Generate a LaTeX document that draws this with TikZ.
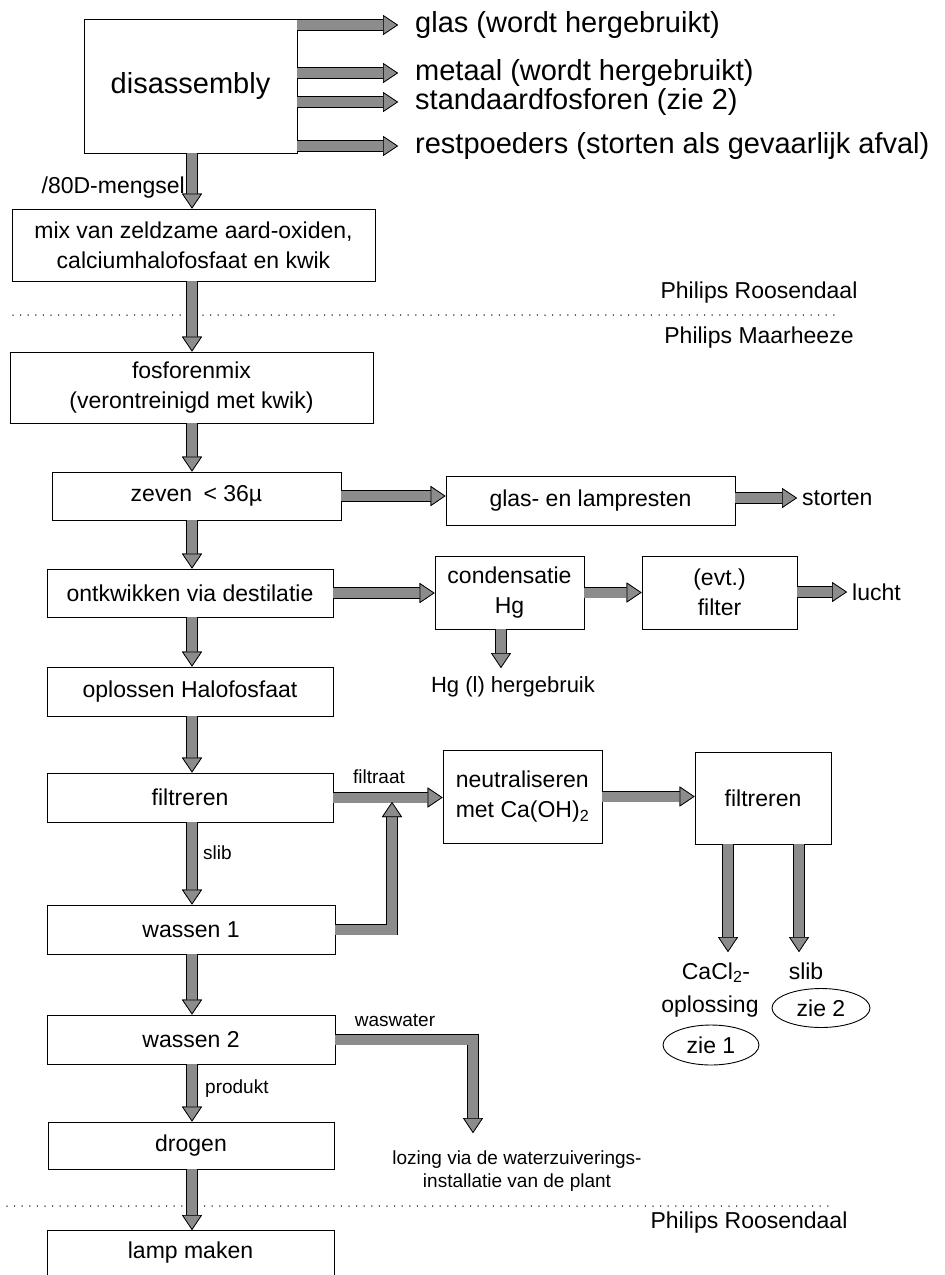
\documentclass[tikz,border=0pt]{standalone}
\usepackage{fontspec}
\setmainfont{Liberation Sans}
\usetikzlibrary{arrows.meta,shapes.geometric}
\newcommand\fsz[2]{\fontsize{#1pt}{#2pt}\selectfont}
\colorlet{hatch}{black!45}
\tikzset{
  box/.style={draw, line width=0.9pt, inner sep=0pt, align=center, font=\fsz{23}{30}},
  txt/.style={inner sep=0pt, align=center, font=\fsz{23}{30}},
  big/.style={inner sep=0pt, font=\fsz{29}{34}},
  small/.style={inner sep=0pt, align=center, font=\fsz{19}{23}},
  oval/.style={draw, ellipse, line width=0.9pt, inner sep=0pt, font=\fsz{23}{30}},
  fattip/.tip={Triangle[length=15pt,width=20pt,line width=0.7pt,color=black,fill=hatch]},
  fat/.style={line width=10pt, draw=hatch, line join=miter, -fattip,
    preaction={draw=black, line width=11.6pt, -fattip}},
  sepline/.style={line width=1.5pt, line cap=round, dash pattern=on 0pt off 7.6pt}
}
\begin{document}
\begin{tikzpicture}[x=1pt,y=-1pt]
\useasboundingbox[fill=white] (0,0) rectangle (945,1275);

% separators
\coordinate (d1a) at (13,315);
\coordinate (d1b) at (835,315);
\coordinate (d2a) at (7,1206);
\coordinate (d2b) at (830,1206);
\draw[sepline] (d1a) -- (d1b);
\draw[sepline] (d2a) -- (d2b);
\node[txt] (pr1) at (759,293) {Philips Roosendaal};
\node[txt] (pm) at (759,338) {Philips Maarheeze};
\node[txt] (pr2) at (749,1223) {Philips Roosendaal};

% boxes
\node[box, minimum width=213pt, minimum height=134pt, font=\fsz{29}{34}] (dis) at (190.5,86) {disassembly};
\node[box, minimum width=363pt, minimum height=72pt] (mix) at (193.5,245) {mix van zeldzame aard-oxiden,\\calciumhalofosfaat en kwik};
\node[box, minimum width=363pt, minimum height=71pt] (fos) at (191.5,387.5) {fosforenmix\\(verontreinigd met kwik)};
\node[box, minimum width=289pt, minimum height=48pt] (zev) at (196.5,496) {zeven\enspace< 36µ};
\node[box, minimum width=289pt, minimum height=49pt] (glasb) at (590.5,500.5) {glas- en lampresten};
\node[box, minimum width=286pt, minimum height=48pt] (ont) at (190,593) {ontkwikken via destilatie};
\node[box, minimum width=149pt, minimum height=73pt] (cond) at (509.5,592.5) {condensatie\\Hg};
\node[box, minimum width=155pt, minimum height=73pt] (filt) at (719.5,592.5) {(evt.)\\filter};
\node[box, minimum width=286pt, minimum height=49pt] (opl) at (190,691.5) {oplossen Halofosfaat};
\node[box, minimum width=286pt, minimum height=49pt] (filtr) at (190,797.5) {filtreren};
\node[box, minimum width=159pt, minimum height=93pt, align=left] (neut) at (522.5,796.5) {neutraliseren\\met Ca(OH)\textsubscript{2}};
\node[box, minimum width=136pt, minimum height=92pt] (filtr2) at (763,798) {filtreren};
\node[box, minimum width=288pt, minimum height=49pt] (was1) at (191,929.5) {wassen 1};
\node[box, minimum width=288pt, minimum height=49pt] (was2) at (191,1039.5) {wassen 2};
\node[box, minimum width=286pt, minimum height=47pt] (dro) at (191,1145.5) {drogen};
\node[box, minimum width=287pt, minimum height=80pt, anchor=north] (lamp) at (190.5,1230) {};
\node[txt] (lampt) at (190.5,1253) {lamp maken};

% outputs of disassembly
\node[big, anchor=west] (g1) at (415,25) {glas (wordt hergebruikt)};
\node[big, anchor=west] (g2) at (415,73) {metaal (wordt hergebruikt)};
\node[big, anchor=west] (g3) at (415,102) {standaardfosforen (zie 2)};
\node[big, anchor=west] (g4) at (415,146) {restpoeders (storten als gevaarlijk afval)};
\foreach \g in {g1,g2,g3,g4}
  \draw[fat] (dis.east |- \g.west) -- ([xshift=-17pt]\g.west);

% labels
\node[txt, anchor=east] (m80) at (185,188) {/80D-mengsel};
\node[txt, anchor=west] (st) at (802,498) {storten};
\node[txt, anchor=west] (lu) at (852,592) {lucht};
\node[txt, font=\fsz{22}{26}] (hg) at (513,687) {Hg (l) hergebruik};
\node[small] (lf) at (379,777) {filtraat};
\node[small, anchor=west] (sl) at (203,853) {slib};
\node[small] (ww) at (395,1020) {waswater};
\node[small, anchor=west] (pk) at (205,1089) {produkt};
\node[small] (loz) at (517,1171) {lozing via de waterzuiverings-\\installatie van de plant};
\node[txt, anchor=base] (ca) at (716,979) {CaCl\textsubscript{2}-};
\node[txt, anchor=base] (sl2) at (806,979) {slib};
\node[txt, anchor=base] (op2) at (710,1012) {oplossing};
\node[oval, minimum width=96pt, minimum height=40pt] (z1) at (711,1045) {zie 1};
\node[oval, minimum width=98pt, minimum height=39pt] (z2) at (821,1008) {zie 2};

% free ends
\coordinate (col) at (192,0);
\coordinate (hgin) at (501,668);
\coordinate (j1) at (392,802);
\coordinate (c1) at (728,952);
\coordinate (c2) at (799,952);
\coordinate (lz) at (473,1133);

% main column
\draw[fat] (dis.south -| col) -- (mix.north -| col);
\draw[fat] (mix.south -| col) -- (fos.north -| col);
\draw[fat] (fos.south -| col) -- (zev.north -| col);
\draw[fat] (zev.south -| col) -- (ont.north -| col);
\draw[fat] (ont.south -| col) -- (opl.north -| col);
\draw[fat] (opl.south -| col) -- (filtr.north -| col);
\draw[fat] (filtr.south -| col) -- (was1.north -| col);
\draw[fat] (was1.south -| col) -- (was2.north -| col);
\draw[fat] (was2.south -| col) -- (dro.north -| col);
\draw[fat] (dro.south -| col) -- (lamp.north -| col);

% side branches
\draw[fat] (zev.east) -- (zev.east -| glasb.west);
\draw[fat] (glasb.east |- st.west) -- ([xshift=-5pt]st.west);
\draw[fat] (ont.east) -- (ont.east -| cond.west);
\draw[fat] (cond.east) -- (filt.west);
\draw[fat] (filt.east |- lu.west) -- ([xshift=-5pt]lu.west);
\draw[fat] (cond.south -| hgin) -- (hgin);
\draw[fat] (filtr.east) -- (filtr.east -| neut.west);
\draw[fat] (was1.east) -| (j1);
\draw[fat] (neut.east) -- (neut.east -| filtr2.west);
\draw[fat] (filtr2.south -| c1) -- (c1);
\draw[fat] (filtr2.south -| c2) -- (c2);
\draw[fat] (was2.east) -| (lz);
\end{tikzpicture}
\end{document}
